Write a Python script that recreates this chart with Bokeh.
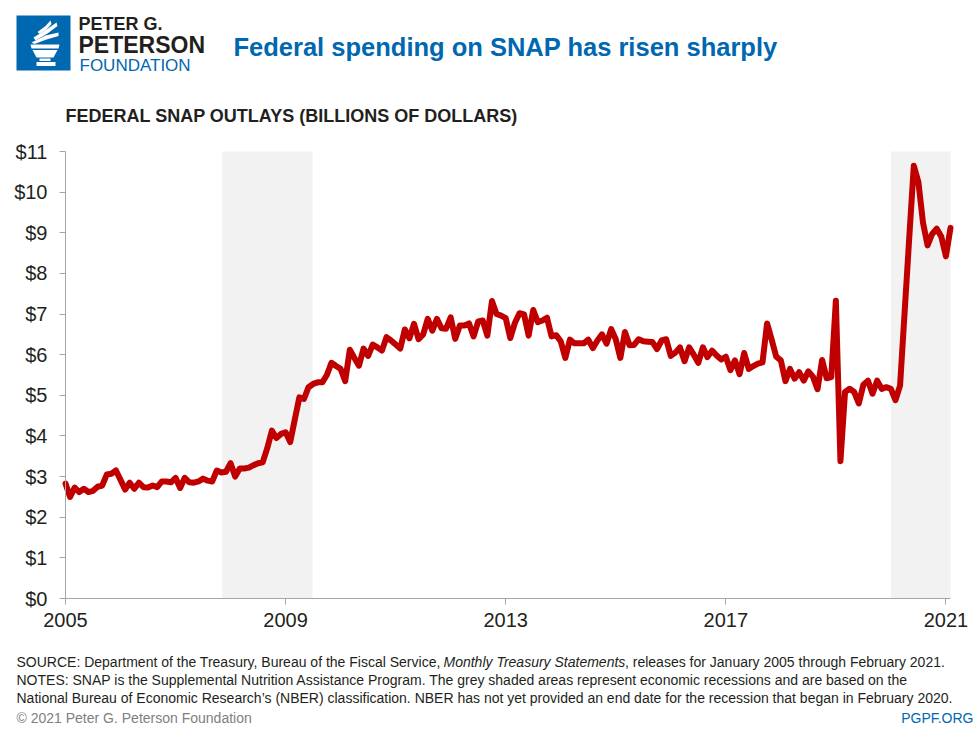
from bokeh.plotting import figure
from bokeh.models import Range1d, FixedTicker, Label
from bokeh.embed import file_html
from bokeh.resources import INLINE

# ---------------- data ----------------
start_year = 2005
# monthly federal SNAP outlays, Jan 2005 - Feb 2021, billions of dollars
outlays = [
    2.83, 2.50, 2.73, 2.62, 2.70, 2.62, 2.65, 2.75, 2.78, 3.05, 3.07, 3.15,   # 2005
    2.92, 2.68, 2.85, 2.70, 2.85, 2.74, 2.73, 2.78, 2.74, 2.88, 2.88, 2.86,   # 2006
    2.97, 2.72, 2.97, 2.86, 2.85, 2.88, 2.95, 2.90, 2.88, 3.15, 3.10, 3.12,   # 2007
    3.33, 3.00, 3.20, 3.20, 3.22, 3.28, 3.33, 3.35, 3.70, 4.13, 3.95, 4.05,   # 2008
    4.09, 3.85, 4.40, 4.95, 4.91, 5.20, 5.28, 5.32, 5.32, 5.50, 5.80, 5.72,   # 2009
    5.65, 5.35, 6.12, 5.92, 5.73, 6.15, 5.97, 6.25, 6.18, 6.10, 6.43, 6.35,   # 2010
    6.25, 6.15, 6.62, 6.40, 6.76, 6.38, 6.50, 6.88, 6.59, 6.88, 6.65, 6.64,   # 2011
    6.92, 6.39, 6.72, 6.72, 6.77, 6.45, 6.82, 6.84, 6.47, 7.32, 7.00, 6.96,   # 2012
    6.90, 6.41, 6.78, 7.02, 6.99, 6.47, 7.10, 6.80, 6.84, 6.91, 6.45, 6.48,   # 2013
    6.33, 5.92, 6.37, 6.28, 6.28, 6.28, 6.37, 6.16, 6.35, 6.50, 6.27, 6.63,   # 2014
    6.38, 5.92, 6.56, 6.23, 6.24, 6.38, 6.33, 6.32, 6.31, 6.14, 6.35, 6.38,   # 2015
    5.97, 6.05, 6.18, 5.84, 6.18, 6.00, 5.80, 6.18, 5.94, 6.10, 5.98, 5.88,   # 2016
    5.95, 5.62, 5.86, 5.52, 6.04, 5.65, 5.72, 5.78, 5.81, 6.77, 6.37, 5.95,   # 2017
    5.86, 5.35, 5.65, 5.41, 5.57, 5.36, 5.59, 5.46, 5.15, 5.87, 5.42, 5.45,   # 2018
    7.33, 3.38, 5.08, 5.16, 5.08, 4.80, 5.26, 5.36, 5.04, 5.36, 5.16, 5.20,   # 2019
    5.16, 4.88, 5.24, 7.05, 8.87, 10.65, 10.25, 9.25, 8.69, 8.97, 9.10, 8.90, # 2020
    8.42, 9.12,                                                               # 2021
]
months = [start_year + i / 12 for i in range(len(outlays))]

recession_start = [2007.85, 2020.0]
recession_end = [2009.49, 2021 + 1 / 12]

x_ticks = [2005, 2009, 2013, 2017, 2021]
y_ticks = list(range(0, 12))
y_tick_labels = {v: "$" + str(v) for v in y_ticks}
x_tick_labels = {v: str(v) for v in x_ticks}

title_text = "Federal spending on SNAP has risen sharply"
subtitle_text = "FEDERAL SNAP OUTLAYS (BILLIONS OF DOLLARS)"
source_a = "SOURCE: Department of the Treasury, Bureau of the Fiscal Service, "
source_b = "Monthly Treasury Statements"
source_c = ", releases for January 2005 through February 2021."
notes_1 = "NOTES: SNAP is the Supplemental Nutrition Assistance Program. The grey shaded areas represent economic recessions and are based on the"
notes_2 = "National Bureau of Economic Research\u2019s (NBER) classification.  NBER has not yet provided an end date for the recession that began in February 2020."
copyright_text = "\u00a9 2021 Peter G. Peterson Foundation"
site_text = "PGPF.ORG"

# ---------------- styles / layout ----------------
BLUE = "#0067b1"
RED = "#c00000"
SHADE = "#f2f2f2"
AXIS = "#a6a6a6"
INK = "#231f20"
FONT = "Liberation Sans"
W, H = 980, 735
PLOT_L, PLOT_R, PLOT_T, PLOT_B = 65, 950, 151, 598   # plot area in page pixels

x0, x1 = start_year, months[-1]
y0, y1 = 0, 11
kx = (x1 - x0) / (PLOT_R - PLOT_L)
ky = (y1 - y0) / (PLOT_B - PLOT_T)

p = figure(width=W, height=H, output_backend="svg", toolbar_location=None,
           x_range=Range1d(x0 - PLOT_L * kx, x1 + (W - PLOT_R) * kx),
           y_range=Range1d(y0 - (H - PLOT_B) * ky, y1 + PLOT_T * ky),
           min_border_left=0, min_border_right=0, min_border_top=0, min_border_bottom=0)
p.extra_x_ranges = {"page_x": Range1d(0, W)}
p.extra_y_ranges = {"page_y": Range1d(H, 0)}
p.outline_line_color = None
p.xgrid.grid_line_color = None
p.ygrid.grid_line_color = None
p.background_fill_color = "white"
p.border_fill_color = "white"

# recession shading and the series
p.quad(left=recession_start, right=recession_end, bottom=y0, top=y1,
       fill_color=SHADE, line_color=None)
p.line(months, outlays, line_color=RED, line_width=6, line_join="round", line_cap="round")

# axes, pinned to the plot area
xa, ya = p.xaxis[0], p.yaxis[0]
xa.fixed_location = y0
xa.bounds = (x0, x1)
ya.fixed_location = x0
ya.bounds = (y0, y1)
for ax in (xa, ya):
    ax.axis_line_color = AXIS
    ax.major_tick_line_color = AXIS
    ax.minor_tick_line_color = None
    ax.major_tick_in = 0
    ax.major_tick_out = 6
    ax.major_label_text_font = FONT
    ax.major_label_text_font_size = "20px"
    ax.major_label_text_color = INK
ya.ticker = FixedTicker(ticks=y_ticks)
ya.major_label_overrides = y_tick_labels
ya.major_label_standoff = 12
xa.ticker = FixedTicker(ticks=x_ticks)
xa.major_label_overrides = x_tick_labels
xa.major_label_standoff = 8


def add_label(text, x, y, size, color=INK, style="normal", align="left"):
    p.add_layout(Label(x=x, y=y, x_range_name="page_x", y_range_name="page_y",
                       text=text, text_font=FONT, text_font_size=size,
                       text_color=color, text_font_style=style, text_align=align,
                       text_baseline="middle"))


# ---------------- header ----------------
p.quad(left=[16], right=[70], top=[15], bottom=[70], fill_color=BLUE, line_color=None,
       x_range_name="page_x", y_range_name="page_y")
torch_x = [
    [30, 59, 58, 31],
    [32, 57, 53, 36],
    [39, 50, 50, 39],
    [36, 55, 55, 36],
    [31, 45, 58, 58, 46, 34],
    [33, 46, 56, 57, 47, 35],
    [37, 45, 50, 51, 46, 39],
]
torch_y = [
    [44, 44, 48, 48],
    [49.5, 49.5, 57, 57],
    [58, 58, 60.5, 60.5],
    [61.5, 61.5, 65.5, 65.5],
    [42, 35, 32, 35.5, 39, 43.5],
    [37, 29, 22, 25.5, 33, 40],
    [31.5, 25.5, 20, 23.5, 29, 33.5],
]
p.patches(torch_x, torch_y, fill_color="white", line_color=None,
          x_range_name="page_x", y_range_name="page_y")

add_label("PETER G.", 78, 23, "18px", style="bold")
add_label("PETERSON", 78, 44, "23px", style="bold")
add_label("FOUNDATION", 79, 64.5, "17px", color=BLUE)
add_label(title_text, 233, 46, "25.5px", color=BLUE, style="bold")
add_label(subtitle_text, 65, 115, "18px", style="bold")

# ---------------- footer ----------------
add_label(source_a, 16, 661, "14px")
add_label(source_b, 443, 661, "14px", style="italic")
add_label(source_c, 624.5, 661, "14px")
add_label(notes_1, 16, 679, "14px")
add_label(notes_2, 16, 697, "14px")
add_label(copyright_text, 16, 717, "14px", color="#808080")
add_label(site_text, 973, 717, "14px", color=BLUE, align="right")

open("out.html", "w").write(file_html(p, INLINE))
